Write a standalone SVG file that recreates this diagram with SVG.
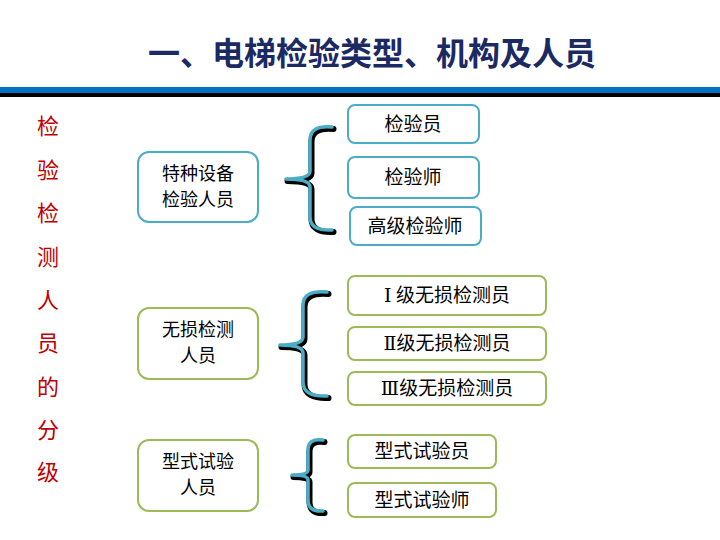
<svg xmlns="http://www.w3.org/2000/svg" width="720" height="540" viewBox="0 0 720 540">
<style>
text{font-family:"Noto Sans CJK SC","Noto Sans",sans-serif;}
.title{font-size:32px;fill:#1B2A63;font-weight:bold;text-anchor:middle;}
.side{font-size:22px;fill:#C00000;text-anchor:middle;}
.t{font-size:19px;fill:#000;text-anchor:middle;}
.t2{font-size:18px;fill:#000;text-anchor:middle;}
.rn{font-family:"DejaVu Serif","Liberation Serif",serif;}
.bb{fill:#fff;stroke:#4BACC6;stroke-width:2;}
.gb{fill:#fff;stroke:#9BBB59;stroke-width:2;}
.sh{fill:none;stroke:#000;stroke-width:6;stroke-linecap:round;stroke-linejoin:round;}
.br{fill:none;stroke:#4BACC6;stroke-width:3.5;stroke-linecap:round;stroke-linejoin:round;}
</style>
<rect x="0" y="0" width="720" height="540" fill="#fff"/>
<text class="title" x="372" y="65">一、电梯检验类型、机构及人员</text>
<rect x="0" y="87" width="720" height="6" fill="#0070C0"/>
<rect x="0" y="93" width="720" height="4" fill="#000"/>
<g id="side-label">
<text class="side" x="48" y="134">检</text>
<text class="side" x="48" y="178">验</text>
<text class="side" x="48" y="221">检</text>
<text class="side" x="48" y="265">测</text>
<text class="side" x="48" y="308">人</text>
<text class="side" x="48" y="351">员</text>
<text class="side" x="48" y="395">的</text>
<text class="side" x="48" y="438">分</text>
<text class="side" x="48" y="480">级</text>
</g>
<g id="connectors">
<g transform="translate(1.5,2)">
<path class="sh" d="M332,127 Q310,125 310,140 L310,171 Q310,179 286,179 Q310,179 310,187 L310,217 Q310,231 332,230"/>
<path class="sh" d="M327,292 Q303,290 303,305 L303,337 Q303,345 280,345 Q303,345 303,353 L303,382 Q303,397 327,396"/>
<path class="sh" d="M323,440 Q308,438 308,450 L308,470 Q308,475 292,475 Q308,475 308,480 L308,500 Q308,512 323,511"/>
</g>
<path class="br" d="M332,127 Q310,125 310,140 L310,171 Q310,179 286,179 Q310,179 310,187 L310,217 Q310,231 332,230"/>
<path class="br" d="M327,292 Q303,290 303,305 L303,337 Q303,345 280,345 Q303,345 303,353 L303,382 Q303,397 327,396"/>
<path class="br" d="M323,440 Q308,438 308,450 L308,470 Q308,475 292,475 Q308,475 308,480 L308,500 Q308,512 323,511"/>
</g>
<g id="n-tzsb">
<rect class="bb" x="138" y="152" width="120" height="70" rx="11"/>
<text class="t2" x="198" y="180">特种设备</text>
<text class="t2" x="198" y="206">检验人员</text>
</g>
<g id="n-jyy">
<rect class="bb" x="348" y="105" width="131" height="38" rx="7"/>
<text class="t" x="413" y="131">检验员</text>
</g>
<g id="n-jys">
<rect class="bb" x="348" y="157" width="131" height="41" rx="7"/>
<text class="t" x="413" y="184">检验师</text>
</g>
<g id="n-gjjys">
<rect class="bb" x="350" y="207" width="131" height="38" rx="7"/>
<text class="t" x="415" y="233">高级检验师</text>
</g>
<g id="n-wsjc">
<rect class="gb" x="138" y="308" width="120" height="71" rx="11"/>
<text class="t2" x="198" y="336">无损检测</text>
<text class="t2" x="198" y="362">人员</text>
</g>
<g id="n-w1">
<rect class="gb" x="348" y="276" width="198" height="39" rx="7"/>
<text class="t" x="447" y="302"><tspan class="rn">Ⅰ</tspan> 级无损检测员</text>
</g>
<g id="n-w2">
<rect class="gb" x="348" y="327" width="198" height="33" rx="7"/>
<text class="t" x="447" y="350"><tspan class="rn">Ⅱ</tspan>级无损检测员</text>
</g>
<g id="n-w3">
<rect class="gb" x="348" y="372" width="198" height="33" rx="7"/>
<text class="t" x="447" y="395"><tspan class="rn">Ⅲ</tspan>级无损检测员</text>
</g>
<g id="n-xssy">
<rect class="gb" x="138" y="440" width="120" height="71" rx="11"/>
<text class="t2" x="198" y="468">型式试验</text>
<text class="t2" x="198" y="494">人员</text>
</g>
<g id="n-xsy">
<rect class="gb" x="348" y="435" width="148" height="33" rx="7"/>
<text class="t" x="422" y="458">型式试验员</text>
</g>
<g id="n-xss">
<rect class="gb" x="348" y="483" width="148" height="34" rx="7"/>
<text class="t" x="422" y="507">型式试验师</text>
</g>
</svg>
